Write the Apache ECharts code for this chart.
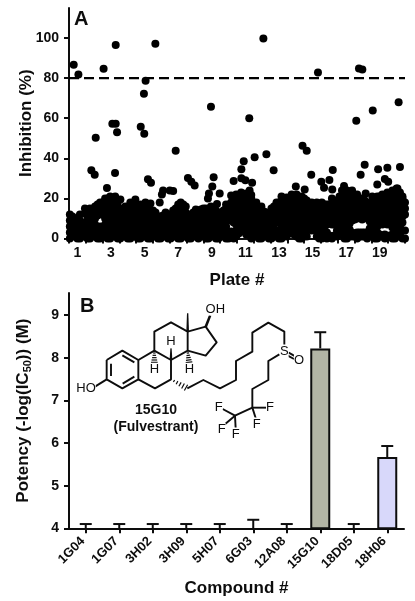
<!DOCTYPE html>
<html>
<head>
<meta charset="utf-8">
<style>html,body{margin:0;padding:0;background:#fff}#chart{width:415px;height:601px}</style>
<script src="https://cdn.jsdelivr.net/npm/echarts@6/dist/echarts.min.js"></script>
</head>
<body>
<div id="chart"></div>
<script>
// panel A: plate numbers and the hits that stand clear of the pile
var plates = ['1','2','3','4','5','6','7','8','9','10','11','12','13','14','15','16','17','18','19','20'];
var hitPoints = [
  [.28,86.7],[.56,81.8],[2.06,84.7],[2.78,96.5],[5.14,97.2],[11.57,99.8],[14.82,82.8],[17.26,84.8],[17.46,84.3],
  [4.56,78.7],[4.46,72.2],[19.62,68],[18.08,63.8],[17.1,58.8],[8.45,65.7],[10.73,60],[2.58,57.3],[2.78,57.3],
  [2.86,53],[4.27,55.7],[4.48,52.2],[1.59,50.3],[6.35,43.8],[13.9,46.3],[14.15,43.8],
  [1.33,34],[1.53,31.8],[2.74,32.7],[2.26,25.2],[3.06,19.5],[4.7,29.5],[4.88,27.8],[7.08,30.2],[7.28,28.3],[7.48,26.5],
  [8.61,30.5],[8.53,26],[8.33,22.5],[8.27,20],[8.97,22.5],[8.81,17.2],[9.8,28.7],[10.4,38.5],[10.26,34.5],[11.05,40.5],
  [11.75,42],[12.18,34],[10.26,30],[10.5,29],[10.9,27.8],[10.75,24],[10.85,21.7],[13.5,26],[14.03,24.5],[14.42,31.8],
  [15.02,28.3],[15.18,25.3],[15.5,29.2],[15.67,24.5],[15.7,34.2],[16.37,26.2],[17.36,31.8],[17.6,36.8],[17.66,22.5],
  [18.4,34.5],[18.95,35.3],[19.7,35.7],[18.8,29.7],[19,28.3],[18.35,27],[19.5,25],
  [5.6,24],[6,24],[6.2,23.7],[5.53,22],[5.4,18]
];
// the low pile, read column by column: [x, [inhibition values]]
var pileColumns = [
  [.05,[0,3,6,9,12]],[.35,[1,4,7,10]],[.65,[0,3,6,9,12]],[.95,[1,4,7,12.5,15]],[1.25,[0,3,6,9,12,15]],
  [1.55,[1,4,7,10,13,16]],[1.85,[0,3,6,13,16,18]],[2.15,[1,4,7,10,13,16,20]],[2.45,[0,3,6,9,12,15,18,21]],
  [2.75,[1,4,7,10,13,16,19,21]],[3.05,[0,3,6,9,12,15]],[3.35,[1,4,7,10,13,16]],[3.65,[0,3,6,9,12,15,18]],
  [3.95,[1,4,7,10,13,16,19.5]],[4.25,[0,3,6,9,12,15,17]],[4.55,[1,4,7,10,13,15,18]],[4.85,[0,3,6,9,12,14,17.5]],
  [5.15,[1,4,7,10,13]],[5.45,[0,3,6,11]],[5.75,[1,4,7,10,13]],[6.05,[0,3,6,9,12]],[6.35,[1,4,7,10,13,15]],
  [6.65,[0,3,6,9,12,15,18]],[6.95,[1,4,7,10,13,16]],[7.25,[0,3,6,9,12]],[7.55,[1,4,7,10,13,14.5]],
  [7.85,[2,5,8,11,14.5]],[8.15,[0,3,6,9,12,15]],[8.45,[1,4,7,10,13,16]],[8.75,[0,3,6,9,12,14]],
  [9.05,[1,4,7,10,13]],[9.35,[0,3,6,9,12,15,17]],[9.65,[1,3.5,9,12,15,18,21.5]],[9.95,[1,4,7,10,13,16,19,22]],
  [10.25,[3.5,6,9,12,15,18,23]],[10.55,[2,5,8,11,14,17,20,22.5]],[10.85,[0,3,6,9,12,15,18,20]],
  [11.15,[1,4,7,10,13,16,18]],[11.45,[0,3,6,9,12,16]],[11.75,[1,4,7,10,13]],[12.05,[0,3,6,9,12,15]],
  [12.35,[1,4,8,11,14,18]],[12.65,[0,3,6,9,12,15,18,21]],[12.95,[1,4,7,10,13,16,19,20.5]],[13.25,[3,6,9,12,15,18,22]],
  [13.55,[1,4,7,10,13,16,19,22]],[13.85,[0,3,6,9,12,15,18,21]],[14.15,[1,4,7,10,13,16,19]],[14.45,[4,6,9,12,15,18]],
  [14.75,[1,4,7,10,13,16,18]],[15.05,[0,3,6,9,12,15,18]],[15.35,[0,3,7,10,13,17]],[15.65,[0,7,10,13,16,20]],
  [15.95,[1,4,7,10,13,16,19]],[16.25,[2,5,8,11,14,17,20,24]],[16.55,[0,3,6,9,12,15,18,21,24]],[16.85,[1,3,9,12,15,18,24]],
  [17.15,[0,3,10,13,16,19,22]],[17.45,[1,3,9.5,12,15,18,20]],[17.75,[0,3,10,13,16,18]],[18.05,[1,4,7,10,13,16,21]],
  [18.35,[0,3,6,12,15,18,21]],[18.65,[1,7,11,14,17,20,22]],[18.95,[1,7,10,13,16,19,23]],[19.25,[0,2,5.5,12,15,18,21,24]],
  [19.55,[1,5,9,13,16,19,22,25]],[19.85,[0,4,8,11,14,17,20,21]],[20,[0,4,12,15,18]],
  // second pass, the values between the first columns
  [.2,[2,5,8,11]],[.5,[0,2.5,5.5,8.5]],[.8,[2,5,8]],[1.1,[0,2.5,5.5,8.5,11,13.5]],[1.4,[2,5,8,11,14]],
  [1.7,[0,2.5,5,11.5,14.5,17]],[2,[2,5,12,15,18]],[2.3,[0,2.5,5.5,8.5,11.5,14.5,17.5,20]],[2.6,[2,5,8,11,14,17,20]],
  [2.9,[0,2.5,5.5,8.5,11.5,14.5,18]],[3.2,[2,5,8,11,14]],[3.5,[0,2.5,5.5,8.5,11.5,14.5]],[3.8,[2,5,8,11,14,17]],
  [4.1,[0,2.5,5.5,8.5,11.5,14.5]],[4.4,[2,5,8,11,14]],[4.7,[0,2.5,5.5,8.5,11.5,14.5]],[5,[2,5,8,11,14]],
  [5.3,[0,2.5,5.5,8.5,11]],[5.6,[2,5,8,11.5]],[5.9,[0,2.5,5.5,8.5,11.5]],[6.2,[2,5,8,11,14]],
  [6.5,[0,2.5,5.5,8.5,11.5,14.5,17]],[6.8,[2,5,8,11,14,17]],[7.1,[0,2.5,5.5,8.5,11.5]],[7.4,[2,5,8,11,13]],
  [7.7,[0,3.5,6.5,9.5,12.5]],[8,[3,6.5,9.5,12.5,15]],[8.3,[0,2.5,5.5,8.5,11.5,14.5]],[8.6,[2,5,8,11,14]],
  [8.9,[0,2.5,5.5,8.5,11.5]],[9.2,[2,5,8,11,14]],[9.5,[0,2.5,9.5,12.5,15.5]],[9.8,[0,2.5,8,11,14,17,20]],
  [10.1,[2.5,5.5,8.5,11.5,14.5,17.5,20.5]],[10.4,[4,7,10,13,16,19,21.5]],[10.7,[3,6,9,12,15,18,21]],
  [11,[1.5,4.5,7.5,10.5,13.5,16.5]],[11.3,[0,2.5,5.5,8.5,11.5,14.5]],[11.6,[2,5,8,11,13.5]],[11.9,[0,2.5,5.5,8.5,11.5]],
  [12.2,[2,5,9.5,12.5,16]],[12.5,[0,2.5,9,12,15,18]],[12.8,[2,5,8,11,14,17,20]],[13.1,[2.5,5.5,8.5,11.5,14.5,17.5,20]],
  [13.4,[2,5,8,11,14,17,20]],[13.7,[0,2.5,5.5,8.5,11.5,14.5,17.5,20.5]],[14,[2,5,8,11,14,17,20]],[14.3,[5,7.5,10.5,13.5,16.5]],
  [14.6,[4.5,7.5,10.5,13.5,16.5]],[14.9,[0,2.5,5.5,8.5,11.5,14.5,17]],[15.2,[1.5,4.5,8.5,11.5,14.5,17]],[15.5,[1.5,8.5,11.5,14.5,17]],
  [15.8,[1.5,7,9,12,15,18]],[16.1,[3,6,9.5,12.5,15.5,18.5,21]],[16.4,[0,3.5,6.5,9.5,12.5,15.5,18.5,21.5]],
  [16.7,[2,4.5,7.5,10.5,13.5,16.5,19.5,22]],[17,[1.5,9.5,11.5,14.5,17.5,20.5]],[17.3,[1,3,11,14,17,20]],[17.6,[1,3,10.5,13.5,16.5,19]],
  [17.9,[2,5,8.5,11.5,14.5,17.5]],[18.2,[0,3,5.5,8.5,11.5,14.5,17.5,20]],[18.5,[2,8,10,13,16,19,21]],[18.8,[0,2,8.5,11.5,14.5,17.5,20.5]],
  [19.1,[1.5,8,11.5,14.5,17.5,20.5,22]],[19.4,[0,3,7,10,13.5,16.5,19.5,22.5]],[19.7,[2,6,10,12,15,18,21,23]]
];
var cutoff = 80;

// panel B: compounds, potency and top of the error bar
var compounds = ['1G04','1G07','3H02','3H09','5H07','6G03','12A08','15G10','18D05','18H06'];
var potency = [4,4,4,4,4,4,4,8.22,4,5.67];
var errorTop = [4.1,4.1,4.1,4.1,4.1,4.2,4.1,8.6,4.1,5.93];

var pilePoints = [];
pileColumns.forEach(function(col){
  col[1].forEach(function(v){ pilePoints.push([col[0], v]); });
});

var font = 'Liberation Sans';
var ink = '#0d0d0d';
var barFill = {'15G10':'#b3b5a5','18H06':'#d8d8fa'};

function axisBase(){
  return {
    axisLine:{show:true,onZero:false,lineStyle:{color:ink,width:2}},
    axisTick:{show:true,length:5,lineStyle:{color:ink,width:2}},
    axisLabel:{color:ink,fontFamily:font,fontWeight:'bold',fontSize:14,margin:10},
    splitLine:{show:false},
    nameTextStyle:{color:ink,fontFamily:font,fontWeight:'bold',fontSize:17},
    nameLocation:'middle',
    nameMoveOverlap:false
  };
}
function merge(a,b){ return echarts.util.merge(a,b,true); }

// molecule, coordinates in a 3x sketch space anchored at the top of panel B
function mx(x){ return x/3; }
function my(y){ return 285+y/3; }
function bond(pts,w){
  return {type:'polyline',silent:true,z:20,
    shape:{points:pts.map(function(p){return [mx(p[0]),my(p[1])];})},
    style:{stroke:ink,lineWidth:w||1.9,fill:null,lineJoin:'round'}};
}
function wedge(pts){
  return {type:'polygon',silent:true,z:20,
    shape:{points:pts.map(function(p){return [mx(p[0]),my(p[1])];})},
    style:{fill:ink}};
}
function atom(t,x,y,bold,size){
  return {type:'text',silent:true,z:21,x:mx(x),y:my(y),
    style:{text:t,fill:ink,font:(bold?'bold ':'')+(size||13)+'px "'+font+'"',align:'center',verticalAlign:'middle',backgroundColor:bold?null:'#fff'}};
}
function hashed(a,b){
  var out=[], n=5;
  for(var i=1;i<=n;i++){
    var t=i/n, cx=a[0]+(b[0]-a[0])*t, cy=a[1]+(b[1]-a[1])*t, dx=-(b[1]-a[1]), dy=b[0]-a[0];
    var len=Math.sqrt(dx*dx+dy*dy), h=2+t*8;
    out.push(bond([[cx+dx/len*h,cy+dy/len*h],[cx-dx/len*h,cy-dy/len*h]],1.2));
  }
  return out;
}
var molecule = [
  bond([[320,225],[367,197],[415,225],[415,283],[367,310],[320,283],[320,225]]),
  bond([[333,236],[333,273]]),bond([[367,211],[403,232]]),bond([[368,296],[403,275]]),
  bond([[415,225],[463,197],[513,225],[513,283],[465,310],[415,283]]),
  bond([[463,197],[463,140],[513,112],[563,140],[563,197],[513,225]]),
  bond([[563,140],[617,125],[650,172],[617,212],[563,197]]),
  wedge([[559,140],[567,140],[565,85],[561,85]]),
  wedge([[613,125],[621,127],[634,92],[627,90]]),
  wedge([[509,225],[517,225],[515,190],[511,190]]),
  bond([[320,283],[285,305]]),
  bond([[562,310],[610,285],[660,310],[708,285],[708,228],[757,200],[757,143],[805,113],[853,140],[853,183]]),
  bond([[838,208],[805,228],[805,285],[757,312],[757,368]]),
  bond([[757,368],[800,368]]),bond([[757,368],[768,402]]),
  bond([[757,368],[705,392],[668,372]]),bond([[705,392],[672,420]]),bond([[705,392],[707,430]]),
  bond([[866,203],[886,214]]),bond([[862,211],[882,222]]),
  atom('OH',646,72),atom('H',463,253),atom('H',513,170),atom('H',568,253),atom('HO',258,311),
  atom('S',853,198),atom('O',897,226),
  atom('F',656,366),atom('F',810,366),atom('F',770,417),atom('F',665,433),atom('F',707,447),
  atom('15G10',468,375,true,14),atom('(Fulvestrant)',468,425,true,14)
].concat(hashed([463,197],[463,232]),hashed([563,197],[567,232]),hashed([513,283],[558,308]));

var chart = echarts.init(document.getElementById('chart'),null,{renderer:'canvas'});
chart.setOption({
  animation:false,
  backgroundColor:'#fff',
  grid:[
    {left:69,top:8,width:336,height:230.5},
    {left:69,top:293,width:335,height:235.3}
  ],
  xAxis:[
    merge(axisBase(),{gridIndex:0,type:'category',data:plates,name:'Plate #',nameGap:33,
      axisTick:{interval:0},axisLabel:{interval:1,margin:8}}),
    {gridIndex:0,type:'value',min:0,max:20,show:false},
    merge(axisBase(),{gridIndex:1,type:'category',data:compounds,name:'Compound #',nameGap:52,
      axisTick:{alignWithLabel:true,interval:0},
      axisLabel:{interval:0,rotate:45,margin:8,fontSize:13,padding:[0,4,0,0]}})
  ],
  yAxis:[
    merge(axisBase(),{gridIndex:0,type:'value',min:0,max:115,name:'Inhibition (%)',nameGap:34,
      axisTick:{customValues:[0,20,40,60,80,100]},axisLabel:{customValues:[0,20,40,60,80,100]}}),
    merge(axisBase(),{gridIndex:1,type:'value',min:4,max:9.52,nameGap:36,
      name:'{n|Potency (-log(IC}{s|50}{n|)) (M)}',
      nameTextStyle:{rich:{
        n:{color:ink,fontFamily:font,fontWeight:'bold',fontSize:17},
        s:{color:ink,fontFamily:font,fontSize:11,verticalAlign:'bottom',padding:[8,0,0,0]}
      }},
      axisTick:{customValues:[4,5,6,7,8,9]},axisLabel:{customValues:[4,5,6,7,8,9]}})
  ],
  series:[
    {type:'scatter',xAxisIndex:1,yAxisIndex:0,data:pilePoints,symbolSize:8,clip:false,
      itemStyle:{color:'#000',opacity:1},z:3},
    {type:'scatter',xAxisIndex:1,yAxisIndex:0,data:hitPoints,symbolSize:8,clip:false,
      itemStyle:{color:'#000',opacity:1},z:3},
    {type:'line',xAxisIndex:1,yAxisIndex:0,data:[[0,cutoff],[20,cutoff]],symbol:'none',z:4,
      lineStyle:{color:'#000',width:2.2,type:[10,5]}},
    {type:'bar',xAxisIndex:2,yAxisIndex:1,data:potency,barWidth:20,z:3,
      itemStyle:{color:function(p){return barFill[p.name]||'#fff';},borderColor:ink,borderWidth:2}},
    {type:'custom',xAxisIndex:2,yAxisIndex:1,z:4,
      data:errorTop.map(function(v,i){return [i,potency[i],v];}),
      encode:{x:0,y:[1,2]},
      renderItem:function(params,api){
        var low=api.coord([api.value(0),api.value(1)]);
        var high=api.coord([api.value(0),api.value(2)]);
        var st={stroke:ink,lineWidth:2,fill:null};
        return {type:'group',children:[
          {type:'line',shape:{x1:low[0],y1:low[1],x2:high[0],y2:high[1]},style:st},
          {type:'line',shape:{x1:high[0]-6,y1:high[1],x2:high[0]+6,y2:high[1]},style:st}
        ]};
      }}
  ],
  graphic:[
    {type:'text',silent:true,x:74,y:9,style:{text:'A',fill:ink,font:'bold 20px "'+font+'"'}},
    {type:'text',silent:true,x:80,y:296,style:{text:'B',fill:ink,font:'bold 20px "'+font+'"'}}
  ].concat(molecule)
});
</script>
</body>
</html>
